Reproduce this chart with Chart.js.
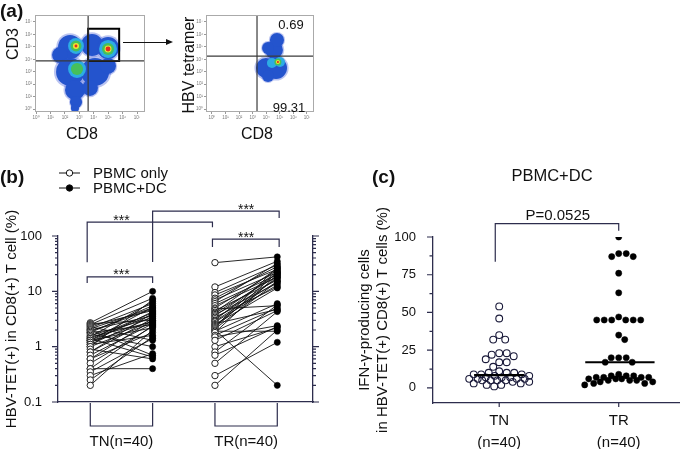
<!DOCTYPE html>
<html lang="en">
<head>
<meta charset="UTF-8">
<title>HBV-tetramer+ CD8 T cells: PBMC vs PBMC+DC</title>
<script src="https://cdn.jsdelivr.net/npm/chart.js"></script>
<style>
  body { margin: 0; background: #fff; }
  #fig { position: relative; width: 685px; height: 449px; overflow: hidden; background: #fff;
         font-family: "Liberation Sans", Arial, sans-serif; color: #111; }
  #fig canvas { position: absolute; }
  .lbl { position: absolute; white-space: nowrap; line-height: 1; transform: translate(-50%, -50%); }
  .rot { transform: translate(-50%, -50%) rotate(-90deg); }
  .panel { position: absolute; font-weight: bold; font-size: 19px; line-height: 1; }
  .arrow { position: absolute; left: 123px; top: 42px; width: 43px; height: 0; border-top: 1.4px solid #111; }
  .arrow::after { content: ""; position: absolute; left: 43px; top: -4.2px; border-left: 7px solid #111;
                  border-top: 3.5px solid transparent; border-bottom: 3.5px solid transparent; }
</style>
</head>
<body>
<div id="fig">
  <canvas id="flow1" width="165" height="150" style="left:0;top:0"></canvas>
  <canvas id="flow2" width="160" height="150" style="left:165px;top:0"></canvas>
  <canvas id="pairs" width="330" height="299" style="left:0;top:150px"></canvas>
  <canvas id="ifn" width="355" height="299" style="left:330px;top:150px"></canvas>

  <div class="panel" style="left:0;top:1px">(a)</div>
  <div class="panel" style="left:0;top:167px">(b)</div>
  <div class="panel" style="left:372px;top:167px">(c)</div>

  <div class="lbl rot" style="left:13px;top:44px;font-size:16px">CD3</div>
  <div class="lbl" style="left:82px;top:134px;font-size:16px">CD8</div>
  <div class="lbl rot" style="left:189px;top:65px;font-size:16px">HBV tetramer</div>
  <div class="lbl" style="left:257px;top:134px;font-size:16px">CD8</div>
  <div class="lbl" style="left:291px;top:24px;font-size:13px">0.69</div>
  <div class="lbl" style="left:289px;top:107px;font-size:13px">99.31</div>
  <div class="arrow"></div>

  <div class="lbl" style="left:552px;top:175px;font-size:16.5px">PBMC+DC</div>
</div>

<script>
Chart.defaults.font.family = '"Liberation Sans", Arial, sans-serif';
Chart.defaults.color = '#111';
const AXIS = '#2d2d4d';

// ---------- (a) flow plots, both axes in log10 decades ----------
const decadeTicks = [0, 1, 2, 3, 4, 5, 6, 7];
const decadeLabels = ['10⁰', '10¹', '10²', '10³', '10⁴', '10⁵', '10⁶', '10⁷'];

// density blobs: [x decade, y decade, spread in decades]
const cd3Blue = [[2.36, 4.99, 0.83], [3.88, 5.15, 0.76], [4.99, 4.91, 0.76], [1.66, 4.34, 0.55],
                 [2.36, 2.98, 0.97], [4.09, 2.98, 0.97], [4.99, 3.46, 0.55], [2.70, 1.53, 0.69],
                 [3.74, 1.69, 0.55], [2.77, 0.56, 0.42], [2.70, 0.08, 0.28]];
const cd3Cyan = [[2.77, 5.07, 0.55], [4.99, 4.83, 0.62], [2.84, 3.22, 0.62]];
const cd3Green = [[2.77, 5.07, 0.38], [4.99, 4.83, 0.42], [2.84, 3.22, 0.42]];
const cd3Yellow = [[2.77, 5.07, 0.21], [4.99, 4.83, 0.24]];
const cd3Red = [[2.77, 5.07, 0.10], [4.99, 4.83, 0.17]];
const cd3Quad = [3.61, 3.87];
const cd3Gate = [3.61, 3.87, 5.76, 6.45];

const tetBlue = [[3.98, 3.30, 0.74], [4.72, 3.30, 0.81], [4.13, 2.65, 0.44],
                 [4.57, 4.75, 0.66], [4.79, 5.55, 0.52], [4.13, 4.91, 0.44]];
const tetCyan = [[4.42, 3.70, 0.37], [5.01, 3.78, 0.37]];
const tetGreen = [[4.86, 3.78, 0.26]];
const tetYellow = [[4.86, 3.78, 0.15]];
const tetRed = [[4.86, 3.78, 0.08]];
const tetQuad = [3.32, 4.26];

// ---------- (b) HBV-TET(+) in CD8(+) T cells (%), paired ----------
const pairSeries = ['PBMC only', 'PBMC+DC'];
const pairGroups = ['TN(n=40)', 'TR(n=40)'];
const tnOnly = [2.7, 2.6, 2.5, 2.4, 2.3, 2.2, 2.1, 2.0, 2.0, 1.9, 1.8, 1.8, 1.7, 1.6, 1.5, 1.5, 1.4, 1.4, 1.3, 1.3,
                1.3, 1.2, 1.2, 1.1, 1.1, 1.0, 1.0, 0.9, 0.8, 0.8, 0.7, 0.6, 0.6, 0.5, 0.4, 0.4, 0.35, 0.3, 0.25, 0.2];
const tnDC = [10, 3.0, 7.5, 4.5, 1.3, 6.0, 5.0, 0.7, 3.6, 4.8, 2.5, 5.5, 1.0, 3.3, 6.5, 2.8, 4.1, 0.65, 3.8, 2.2,
              5.2, 4.3, 2.9, 1.6, 3.5, 7.0, 2.7, 0.6, 3.2, 4.0, 2.6, 1.8, 3.0, 2.3, 0.4, 2.4, 1.4, 0.75, 1.5, 2.0];
const trOnly = [33, 12, 9.5, 8.6, 7.5, 7, 6.5, 6, 5.5, 5, 4.8, 4.5, 4.2, 4, 3.8, 3.6, 3.4, 3.2, 3, 2.9,
                2.8, 2.6, 2.5, 2.4, 2.3, 2.2, 2.1, 2.0, 1.9, 1.9, 1.8, 1.6, 1.5, 1.3, 1.0, 0.8, 0.7, 0.5, 0.3, 0.2];
const trDC = [42, 35, 30, 25, 28, 22, 32, 20, 18, 24, 5.5, 16, 26, 19, 14, 21, 12, 17, 23, 15,
              13, 4.7, 11.5, 18, 27, 22, 15, 0.2, 1.9, 6, 20, 5.0, 2.4, 4.5, 2.2, 5.7, 2.3, 4.3, 1.2, 2.0];
const logMajor = [0.1, 1, 10, 100];
const logMajorLabels = ['0.1', '1', '10', '100'];
const logMinor = [0.1, 1, 10].flatMap(d => [2, 3, 4, 5, 6, 7, 8, 9].map(k => k * d));
const pairBrackets = [
  { x1: 0.95, x2: 2, tx: 1.5, y: 18.2, legL: 6, legR: 6, text: '***' },
  { x1: 0.95, x2: 2.96, tx: 1.5, y: 178, legL: 40, legR: 5, text: '***' },
  { x1: 2, x2: 4.03, tx: 3.5, y: 282, legL: 51, legR: 7, text: '***' },
  { x1: 2.96, x2: 4.03, tx: 3.5, y: 88, legL: 8, legR: 8, text: '***' }
];

// ---------- (c) IFN-γ-producing cells (%), PBMC+DC ----------
const ifnGroups = [['TN', '(n=40)'], ['TR', '(n=40)']];
const tnIfn = [54, 46, 35, 32, 32, 23, 23, 22, 21, 19, 17, 17, 14, 11, 10, 10, 10, 9, 9, 9,
               8, 8, 7, 7, 7, 6, 6, 6, 6, 5, 5, 5, 5, 4, 4, 3, 3, 2, 2, 1];
const trIfn = [100, 89, 87, 87, 89, 76, 63, 47, 45, 45, 45, 45, 45, 45, 35, 32, 20, 20, 20, 17,
               17, 9, 8, 8, 8, 7, 7, 7, 7, 6, 6, 6, 5, 5, 5, 4, 4, 3, 3, 2];
const ifnMajor = [0, 25, 50, 75, 100];
const ifnMinor = [12.5, 37.5, 62.5, 87.5];
const ifnBracket = { x1: 0.967, x2: 2, tx: 1.49, y: 108.8, legL: 38, legR: 7, text: 'P=0.0525' };

// ---------- helpers ----------
function pxPerDecade(chart) {
  const sx = chart.scales.x;
  return sx.getPixelForValue(1) - sx.getPixelForValue(0);
}

function blobs(list, color, grow, order) {
  return {
    data: list.map(b => ({ x: b[0], y: b[1], s: b[2] })),
    pointRadius: c => (c.raw ? c.raw.s * grow * pxPerDecade(c.chart) : 0),
    pointBackgroundColor: color,
    pointBorderWidth: 0,
    order
  };
}

function rule(points, color, width, order) {
  return {
    data: points.map(p => ({ x: p[0], y: p[1] })),
    showLine: true, borderColor: color, borderWidth: width, pointRadius: 0, order
  };
}

const frame = {
  id: 'frame',
  afterDatasetsDraw(chart) {
    const a = chart.chartArea, ctx = chart.ctx;
    ctx.save();
    ctx.strokeStyle = '#aaa';
    ctx.lineWidth = 1;
    ctx.strokeRect(a.left + 0.5, a.top + 0.5, a.right - a.left - 1, a.bottom - a.top - 1);
    ctx.restore();
  }
};

function decadeAxis(range, fit) {
  return {
    type: 'linear', min: range[0], max: range[1],
    afterBuildTicks: s => { s.ticks = decadeTicks.map(v => ({ value: v })); },
    ticks: { callback: v => decadeLabels[v], font: { size: 4.5 }, color: '#777', padding: 1, maxRotation: 0, autoSkip: false },
    grid: { drawOnChartArea: false, tickLength: 2, color: '#999' },
    border: { display: false },
    afterFit: fit
  };
}

function flowChart(id, xr, yr, axisW, padRight, layers, quad, gate) {
  const sets = [
    blobs(layers[0], 'rgba(105,125,225,0.45)', 1.15, 7),
    blobs(layers[0], 'rgb(36,84,205)', 1, 6),
    blobs(layers[1], 'rgb(45,172,228)', 1, 5),
    blobs(layers[2], 'rgb(70,192,90)', 1, 4),
    blobs(layers[3], 'rgb(238,228,50)', 1, 3),
    blobs(layers[4], 'rgb(228,45,30)', 1, 2),
    rule([[quad[0], -2], [quad[0], 9]], '#3a3a3a', 1.2, 0),
    rule([[-2, quad[1]], [9, quad[1]]], '#3a3a3a', 1.2, 0)
  ];
  if (gate) {
    sets.push(rule([[gate[0], gate[1]], [gate[2], gate[1]], [gate[2], gate[3]], [gate[0], gate[3]], [gate[0], gate[1]]], '#000', 2, 0));
  }
  return new Chart(document.getElementById(id), {
    type: 'scatter',
    data: { datasets: sets },
    options: {
      responsive: false, animation: false, events: [],
      layout: { padding: { top: 15, right: padRight, left: 0, bottom: 0 } },
      plugins: { legend: { display: false }, tooltip: { enabled: false } },
      scales: {
        x: decadeAxis(xr, s => { s.height = 38; }),
        y: decadeAxis(yr, s => { s.width = axisW; })
      }
    },
    plugins: [frame]
  });
}

function drawTicks(chart, id, values, len, dir) {
  const s = chart.scales[id], ctx = chart.ctx;
  ctx.save();
  ctx.strokeStyle = AXIS;
  ctx.lineWidth = 1.2;
  ctx.beginPath();
  values.forEach(v => {
    const p = s.getPixelForValue(v);
    if (s.isHorizontal()) {
      ctx.moveTo(p, s.top); ctx.lineTo(p, s.top + len);
    } else {
      const x0 = dir < 0 ? s.right : s.left;
      ctx.moveTo(x0, p); ctx.lineTo(x0 + dir * len, p);
    }
  });
  ctx.stroke();
  ctx.restore();
}

function drawBracket(chart, b, font, lift) {
  const sx = chart.scales.x, sy = chart.scales.y, ctx = chart.ctx;
  const x1 = sx.getPixelForValue(b.x1), x2 = sx.getPixelForValue(b.x2), y = sy.getPixelForValue(b.y);
  ctx.save();
  ctx.strokeStyle = AXIS;
  ctx.lineWidth = 1.2;
  ctx.beginPath();
  ctx.moveTo(x1, y + b.legL); ctx.lineTo(x1, y); ctx.lineTo(x2, y); ctx.lineTo(x2, y + b.legR);
  ctx.stroke();
  ctx.fillStyle = '#111';
  ctx.font = font;
  ctx.textAlign = 'center';
  ctx.textBaseline = 'alphabetic';
  ctx.fillText(b.text, sx.getPixelForValue(b.tx), y + lift);
  ctx.restore();
}

function median(arr) {
  const s = [...arr].sort((a, b) => a - b), m = s.length / 2;
  return s.length % 2 ? s[Math.floor(m)] : (s[m - 1] + s[m]) / 2;
}

// ---------- (a) ----------
flowChart('flow1', [-0.07, 7.55], [-0.24, 7.56], 35, 20,
  [cd3Blue, cd3Cyan, cd3Green, cd3Yellow, cd3Red], cd3Quad, cd3Gate);
flowChart('flow2', [-0.44, 7.52], [-0.24, 7.56], 41, 11,
  [tetBlue, tetCyan, tetGreen, tetYellow, tetRed], tetQuad, null);

// ---------- (b) ----------
const pairSets = [];
tnOnly.forEach((v, i) => pairSets.push(rule([[1, v], [2, tnDC[i]]], '#111', 0.9, 2)));
trOnly.forEach((v, i) => pairSets.push(rule([[3, v], [4, trDC[i]]], '#111', 0.9, 2)));
pairSets.push({
  data: tnOnly.map(v => ({ x: 1, y: v })).concat(trOnly.map(v => ({ x: 3, y: v }))),
  pointRadius: 3.2, pointBackgroundColor: '#fff', pointBorderColor: '#222', pointBorderWidth: 1, order: 1
});
pairSets.push({
  data: tnDC.map(v => ({ x: 2, y: v })).concat(trDC.map(v => ({ x: 4, y: v }))),
  pointRadius: 3.1, pointBackgroundColor: '#000', pointBorderColor: '#000', pointBorderWidth: 0.5, order: 0
});

const pairDecor = {
  id: 'pairDecor',
  afterDraw(chart) {
    const ctx = chart.ctx, sx = chart.scales.x, a = chart.chartArea;
    drawTicks(chart, 'y', logMajor, 6, -1);
    drawTicks(chart, 'y', logMinor, 3, -1);
    drawTicks(chart, 'y2', logMajor, 6, 1);
    drawTicks(chart, 'y2', logMinor, 3, 1);
    pairBrackets.forEach(b => drawBracket(chart, b, '14px "Liberation Sans", Arial, sans-serif', 2.5));

    // group brackets under the axis
    ctx.save();
    ctx.strokeStyle = AXIS;
    ctx.lineWidth = 1.2;
    [[1, 2], [3, 4]].forEach(g => {
      const x1 = sx.getPixelForValue(g[0]), x2 = sx.getPixelForValue(g[1]);
      ctx.beginPath();
      ctx.moveTo(x1, a.bottom + 1); ctx.lineTo(x1, a.bottom + 24);
      ctx.lineTo(x2, a.bottom + 24); ctx.lineTo(x2, a.bottom + 1);
      ctx.stroke();
    });

    // legend
    ctx.font = '15px "Liberation Sans", Arial, sans-serif';
    ctx.textBaseline = 'middle';
    ctx.textAlign = 'left';
    pairSeries.forEach((name, i) => {
      const y = 23 + i * 15;
      ctx.strokeStyle = '#111';
      ctx.lineWidth = 1;
      ctx.beginPath(); ctx.moveTo(59, y); ctx.lineTo(80, y); ctx.stroke();
      ctx.beginPath(); ctx.arc(69.5, y, 3.2, 0, Math.PI * 2);
      ctx.fillStyle = i ? '#000' : '#fff';
      ctx.fill(); ctx.stroke();
      ctx.fillStyle = '#111';
      ctx.fillText(name, 93, y + 0.5);
    });
    ctx.restore();
  }
};

new Chart(document.getElementById('pairs'), {
  type: 'scatter',
  data: { datasets: pairSets },
  options: {
    responsive: false, animation: false, events: [],
    layout: { padding: { top: 86, right: 11, left: 0, bottom: 0 } },
    plugins: { legend: { display: false }, tooltip: { enabled: false } },
    scales: {
      x: {
        type: 'linear', min: 0.482, max: 4.573,
        afterBuildTicks: s => { s.ticks = [1.5, 3.5].map(v => ({ value: v })); },
        ticks: { callback: v => pairGroups[v === 1.5 ? 0 : 1], font: { size: 15 }, padding: 23, maxRotation: 0, autoSkip: false },
        grid: { display: false },
        border: { display: true, color: AXIS, width: 1.3 },
        afterFit: s => { s.height = 47; }
      },
      y: {
        type: 'logarithmic', min: 0.1, max: 100, position: 'left',
        afterBuildTicks: s => { s.ticks = logMajor.map(v => ({ value: v })); },
        ticks: { callback: (v, i) => logMajorLabels[i], font: { size: 13 }, padding: 8, autoSkip: false },
        grid: { display: false },
        border: { display: true, color: AXIS, width: 1.3 },
        title: { display: true, text: 'HBV-TET(+) in CD8(+) T cell (%)', font: { size: 15 }, padding: { top: 3, bottom: 0 } },
        afterFit: s => { s.width = 58; }
      },
      y2: {
        type: 'logarithmic', min: 0.1, max: 100, position: 'right',
        ticks: { display: false },
        grid: { display: false },
        border: { display: true, color: AXIS, width: 1.3 },
        afterFit: s => { s.width = 6; }
      }
    }
  },
  plugins: [pairDecor]
});

// ---------- (c) ----------
const tnMed = median(tnIfn), trMed = median(trIfn);
const ifnDecor = {
  id: 'ifnDecor',
  afterDraw(chart) {
    drawTicks(chart, 'y', ifnMajor, 6, -1);
    drawTicks(chart, 'y', ifnMinor, 3.5, -1);
    drawTicks(chart, 'x', [1, 2], 4, 1);
    drawBracket(chart, ifnBracket, '15px "Liberation Sans", Arial, sans-serif', -3.5);
  }
};

const ifnChart = new Chart(document.getElementById('ifn'), {
  type: 'scatter',
  data: {
    datasets: [
      { data: tnIfn.map(v => ({ x: 1, y: v })), pointRadius: 3.4, pointBackgroundColor: 'rgba(255,255,255,0)',
        pointBorderColor: '#1a1a3a', pointBorderWidth: 1.1, order: 1 },
      { data: trIfn.map(v => ({ x: 2, y: v })), pointRadius: 3.1, pointBackgroundColor: '#000',
        pointBorderColor: '#000', pointBorderWidth: 0.5, order: 1 },
      rule([[0.79, tnMed], [1.21, tnMed]], '#000', 2.2, 0),
      rule([[1.72, trMed], [2.30, trMed]], '#000', 2.2, 0)
    ]
  },
  options: {
    responsive: false, animation: false, events: [],
    layout: { padding: { top: 87, right: 2, left: 0, bottom: 0 } },
    plugins: { legend: { display: false }, tooltip: { enabled: false } },
    scales: {
      x: {
        type: 'linear', min: 0.446, max: 2.512,
        afterBuildTicks: s => { s.ticks = [1, 2].map(v => ({ value: v })); },
        ticks: { callback: v => ifnGroups[v - 1], font: { size: 15, lineHeight: 1.4667 }, padding: -1, maxRotation: 0, autoSkip: false },
        grid: { display: false },
        border: { display: true, color: AXIS, width: 1.3 },
        afterFit: s => { s.height = 46; }
      },
      y: {
        type: 'linear', min: -10, max: 100,
        afterBuildTicks: s => { s.ticks = ifnMajor.map(v => ({ value: v })); },
        ticks: { font: { size: 13 }, padding: 9, autoSkip: false },
        grid: { display: false },
        border: { display: true, color: AXIS, width: 1.3 },
        title: { display: true, text: ['IFN-γ-producing cells', 'in HBV-TET(+) CD8(+) T cells (%)'],
                 font: { size: 15 }, padding: { top: 26, bottom: 0 } },
        afterFit: s => { s.width = 103; }
      }
    }
  },
  plugins: [ifnDecor]
});

// spread the dots sideways so they do not overlap (beeswarm), within a band
function swarm(chart, dsIndex, center, gap, maxW) {
  const sx = chart.scales.x, sy = chart.scales.y;
  const pts = chart.data.datasets[dsIndex].data;
  const cx = sx.getPixelForValue(center);
  const placed = [];
  pts.map((p, i) => i).sort((a, b) => pts[b].y - pts[a].y).forEach(i => {
    const py = sy.getPixelForValue(pts[i].y);
    let best = 0, bestD = -1;
    for (let k = 0; ; k++) {
      const off = (k % 2 ? 1 : -1) * Math.ceil(k / 2) * 0.5;
      if (Math.abs(off) > maxW) break;
      const d = placed.reduce((m, q) => Math.min(m, Math.hypot(q[0] - off, q[1] - py)), Infinity);
      if (d >= gap) { best = off; break; }
      if (d > bestD + 0.01) { bestD = d; best = off; }
    }
    placed.push([best, py]);
    pts[i].x = sx.getValueForPixel(cx + best);
  });
}
swarm(ifnChart, 0, 1, 7.5, 30);
swarm(ifnChart, 1, 2, 7.5, 34);
ifnChart.update('none');
</script>
</body>
</html>
